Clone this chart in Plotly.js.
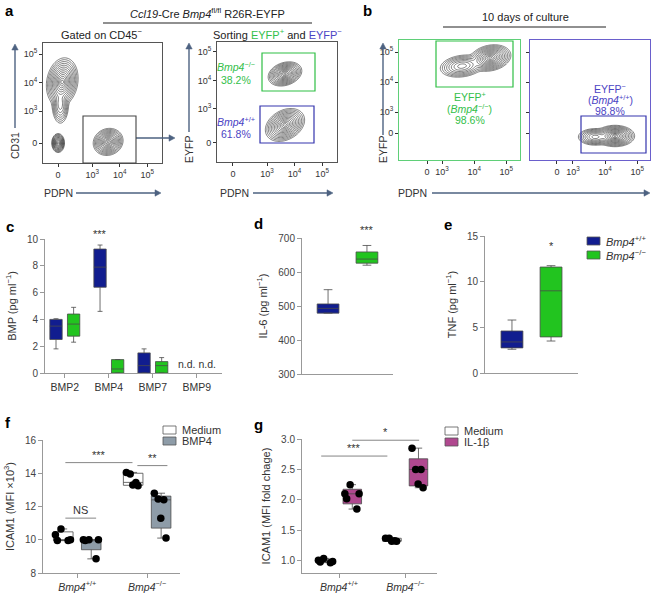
<!DOCTYPE html>
<html><head><meta charset="utf-8">
<script src="https://cdn.plot.ly/plotly-3.0.1.min.js"></script>
<style>html,body{margin:0;padding:0;background:#fff}#chart{width:651px;height:597px}</style>
</head><body><div id="chart"></div>
<script>
// ---------------- DATA ----------------
// Flow cytometry tick labels (biexponential display)
const flowTickText = ['0', '10<sup>3</sup>', '10<sup>4</sup>', '10<sup>5</sup>'];

// Populations (display units: 0 at "0", one unit per decade above 10^3)
const aLeftPopX  = [0.15, 0.08, 0.00, 1.82];
const aLeftPopY  = [2.14, 1.35, 0.00, 0.04];
const aLeftPopSX = [0.17, 0.10, 0.07, 0.16];
const aLeftPopSY = [0.25, 0.22, 0.10, 0.14];
const aLeftPopR  = [0.15, 0.0, 0.0, 0.1];
const aLeftPopW  = [1.0, 0.25, 0.8, 1.0];

const aRightPopX  = [1.89, 1.89];
const aRightPopY  = [2.42, 0.63];
const aRightPopSX = [0.18, 0.21];
const aRightPopSY = [0.125, 0.17];
const aRightPopR  = [0.25, 0.3];
const aRightPopW  = [1.0, 1.0];

const bLeftPopX  = [1.97, 1.09];
const bLeftPopY  = [2.50, 2.23];
const bLeftPopSX = [0.19, 0.22];
const bLeftPopSY = [0.13, 0.12];
const bLeftPopR  = [0.2, 0.2];
const bLeftPopW  = [1.0, 0.35];

const bRightPopX  = [1.81, 1.19];
const bRightPopY  = [-0.10, -0.13];
const bRightPopSX = [0.18, 0.17];
const bRightPopSY = [0.105, 0.09];
const bRightPopR  = [0.0, 0.0];
const bRightPopW  = [1.0, 0.35];

// Panel c: BMP (pg/ml)
const bmpCategories = ['BMP2', 'BMP4', 'BMP7', 'BMP9'];
const bmpMeasured   = ['BMP2', 'BMP4', 'BMP7'];
const bmpWT_low = [1.8, 4.6, 0.0];
const bmpWT_q1  = [2.5, 6.4, 0.0];
const bmpWT_med = [3.5, 7.9, 0.55];
const bmpWT_q3  = [4.0, 9.25, 1.5];
const bmpWT_high= [4.05, 9.55, 1.8];
const bmpKO_low = [2.3, 0.0, 0.0];
const bmpKO_q1  = [2.75, 0.0, 0.0];
const bmpKO_med = [3.65, 0.3, 0.55];
const bmpKO_q3  = [4.4, 1.0, 0.85];
const bmpKO_high= [4.9, 1.0, 1.15];

// Genotypes
const genotypes = ['Bmp4+/+', 'Bmp4-/-'];
const genotypeLabels = ['<i>Bmp4</i><sup>+/+</sup>', '<i>Bmp4</i><sup>−/−</sup>'];

// Panel d: IL-6 (pg/ml)  [WT, KO]
const il6_low  = [479, 620];
const il6_q1   = [479, 626];
const il6_med  = [493, 638];
const il6_q3   = [506, 659];
const il6_high = [548, 678];

// Panel e: TNF (pg/ml)
const tnf_low  = [2.6, 3.5];
const tnf_q1   = [2.75, 3.95];
const tnf_med  = [3.4, 9.0];
const tnf_q3   = [4.6, 11.6];
const tnf_high = [5.8, 11.75];

// Panel f: ICAM1 (MFI x10^3)
const fMediumWT = [10.65, 10.3, 10.0, 9.95, 9.95];
const fMediumKO = [14.05, 13.95, 13.45, 13.3, 13.25];
const fBMP4WT   = [10.0, 10.0, 9.95, 10.0, 8.85];
const fBMP4KO   = [12.8, 12.45, 12.4, 11.3, 10.1];

// Panel g: ICAM1 (MFI fold change)
const gMediumWT = [0.99, 1.04, 0.98, 1.01, 0.97];
const gMediumKO = [1.32, 1.37, 1.33, 1.37, 1.32];
const gIL1WT    = [2.25, 2.1, 2.1, 2.02, 1.85];
const gIL1KO    = [2.85, 2.5, 2.5, 2.26, 2.2];

// Legend labels
const legendE = genotypeLabels;
const legendF = ['Medium', 'BMP4'];
const legendG = ['Medium', 'IL-1β'];

// ---------------- STYLE / LAYOUT ----------------
const W = 651, H = 597;
const FONT = 'Liberation Sans, Arial, Helvetica, sans-serif';
const PX = v => v / W, PY = v => 1 - v / H;
const C_BLUE = '#111d8f', C_GREEN = '#22c41f', C_GREY = '#8e9ca8', C_MAG = '#b0488f';
const GATE_GREEN = '#2fbf45', GATE_BLUE = '#3434ad', TXT_GREEN = '#33c04a', TXT_BLUE = '#4b44c4';
const ARW = '#4d6281';

function densityTrace(xr, yr, px, py, sx, sy, rr, ww, xa, ya) {
  const n = 90, xs = [], ys = [], z = [];
  for (let i = 0; i < n; i++) xs.push(xr[0] + (xr[1] - xr[0]) * i / (n - 1));
  for (let j = 0; j < n; j++) ys.push(yr[0] + (yr[1] - yr[0]) * j / (n - 1));
  for (let j = 0; j < n; j++) {
    const row = [];
    for (let i = 0; i < n; i++) {
      let d = 0;
      for (let k = 0; k < px.length; k++) {
        const dx = (xs[i] - px[k]) / sx[k], dy = (ys[j] - py[k]) / sy[k], r = rr[k];
        const q = (dx * dx - 2 * r * dx * dy + dy * dy) / (1 - r * r);
        d += ww[k] * Math.exp(-q / 2);
      }
      d = Math.min(d, 0.999);
      row.push(d > 1e-9 ? -Math.sqrt(-2 * Math.log(d)) : -7);
    }
    z.push(row);
  }
  return {type: 'contour', x: xs, y: ys, z: z, xaxis: xa, yaxis: ya,
    contours: {coloring: 'lines', start: -3.4, end: -0.2, size: 0.26},
    line: {width: 0.55, smoothing: 1}, colorscale: [[0, '#1c1c1c'], [1, '#1c1c1c']],
    showscale: false, hoverinfo: 'skip', showlegend: false};
}

// flow axes (linear-region width L per panel)
const aLX = {L: 1.24, r: [-0.55, 3.78]}, aLY = {L: 1.12, r: [-0.70, 3.51]};
const aRX = {L: 1.24, r: [-0.58, 3.78]}, aRY = {L: 1.19, r: [-0.67, 3.54]};
const bLX = {L: 0.47, r: [-0.875, 2.9]}, bRX = {L: 0.50, r: [-0.84, 2.9]}, bY = {L: 0.70, r: [-0.9, 3.1]};

function flowAxis(dom, s, anchor, color, labels) {
  return {domain: dom, range: s.r, anchor: anchor, tickmode: 'array',
    tickvals: [0, s.L, s.L + 1, s.L + 2], ticktext: flowTickText, ticks: 'outside', ticklen: 3,
    tickcolor: '#333', tickfont: {size: 9, color: '#333', family: FONT}, showticklabels: labels !== false,
    showline: true, mirror: true, linecolor: color, linewidth: 1, showgrid: false, zeroline: false, fixedrange: true};
}

const traces = [];
traces.push(densityTrace(aLX.r, aLY.r, aLeftPopX, aLeftPopY, aLeftPopSX, aLeftPopSY, aLeftPopR, aLeftPopW, 'x', 'y'));
traces.push(densityTrace(aRX.r, aRY.r, aRightPopX, aRightPopY, aRightPopSX, aRightPopSY, aRightPopR, aRightPopW, 'x2', 'y2'));
traces.push(densityTrace(bLX.r, bY.r, bLeftPopX, bLeftPopY, bLeftPopSX, bLeftPopSY, bLeftPopR, bLeftPopW, 'x3', 'y3'));
traces.push(densityTrace(bRX.r, bY.r, bRightPopX, bRightPopY, bRightPopSX, bRightPopSY, bRightPopR, bRightPopW, 'x4', 'y4'));

const boxLine = {color: '#4a4a4a', width: 0.8};
// c
traces.push({type: 'box', x: bmpMeasured, q1: bmpWT_q1, median: bmpWT_med, q3: bmpWT_q3,
  lowerfence: bmpWT_low, upperfence: bmpWT_high, fillcolor: C_BLUE, line: boxLine, whiskerwidth: 0.4,
  offsetgroup: 'wt', xaxis: 'x5', yaxis: 'y5', showlegend: false, hoverinfo: 'skip', name: 'Bmp4+/+'});
traces.push({type: 'box', x: bmpMeasured, q1: bmpKO_q1, median: bmpKO_med, q3: bmpKO_q3,
  lowerfence: bmpKO_low, upperfence: bmpKO_high, fillcolor: C_GREEN, line: boxLine, whiskerwidth: 0.4,
  offsetgroup: 'ko', xaxis: 'x5', yaxis: 'y5', showlegend: false, hoverinfo: 'skip', name: 'Bmp4-/-'});
// d
[0, 1].forEach(i => traces.push({type: 'box', x: [genotypes[i]], q1: [il6_q1[i]], median: [il6_med[i]], q3: [il6_q3[i]],
  lowerfence: [il6_low[i]], upperfence: [il6_high[i]], fillcolor: i ? C_GREEN : C_BLUE, line: boxLine, whiskerwidth: 0.4,
  offsetgroup: 'one', xaxis: 'x6', yaxis: 'y6', showlegend: false, hoverinfo: 'skip'}));
// e
[0, 1].forEach(i => traces.push({type: 'box', x: [genotypes[i]], q1: [tnf_q1[i]], median: [tnf_med[i]], q3: [tnf_q3[i]],
  lowerfence: [tnf_low[i]], upperfence: [tnf_high[i]], fillcolor: i ? C_GREEN : C_BLUE, line: boxLine, whiskerwidth: 0.4,
  offsetgroup: 'one', xaxis: 'x7', yaxis: 'y7', showlegend: false, name: genotypeLabels[i], hoverinfo: 'skip'}));

function sampleBox(wt, ko, fill, group, xa, ya, name) {
  return {type: 'box', x: wt.map(() => genotypes[0]).concat(ko.map(() => genotypes[1])), y: wt.concat(ko),
    boxpoints: 'all', jitter: 0.95, pointpos: 0, quartilemethod: 'exclusive',
    marker: {color: '#000', size: 7.5}, fillcolor: fill, line: boxLine, whiskerwidth: 0.4,
    offsetgroup: group, xaxis: xa, yaxis: ya, name: name, showlegend: false, hoverinfo: 'skip'};
}
traces.push(sampleBox(fMediumWT, fMediumKO, '#ffffff', 'med', 'x8', 'y8', legendF[0]));
traces.push(sampleBox(fBMP4WT, fBMP4KO, C_GREY, 'trt', 'x8', 'y8', legendF[1]));
traces.push(sampleBox(gMediumWT, gMediumKO, '#ffffff', 'med', 'x9', 'y9', legendG[0]));
traces.push(sampleBox(gIL1WT, gIL1KO, C_MAG, 'trt', 'x9', 'y9', legendG[1]));

function statY(bot, top, range, tickvals, title, standoff, anchor, fmt) {
  return {domain: [PY(bot), PY(top)], range: range, anchor: anchor, tickmode: 'array', tickvals: tickvals,
    tickformat: fmt || '', ticks: 'outside', ticklen: 4, tickcolor: '#999', tickfont: {size: 10, color: '#444', family: FONT},
    showline: true, linecolor: '#999', linewidth: 1, showgrid: false, zeroline: false, fixedrange: true,
    title: {text: title, font: {size: 11, color: '#333', family: FONT}, standoff: standoff}};
}
function statX(left, right, range, cats, ticklabels, anchor, ticktext) {
  return {domain: [PX(left), PX(right)], range: range, anchor: anchor, type: 'category', categoryorder: 'array',
    categoryarray: cats, tickmode: 'array', tickvals: cats, ticktext: ticktext || cats,
    ticks: ticklabels ? 'outside' : '', ticklen: 4, tickcolor: '#999', showticklabels: ticklabels,
    tickfont: {size: 10.5, color: '#333', family: FONT}, showline: true, linecolor: '#999', linewidth: 1,
    showgrid: false, zeroline: false, fixedrange: true};
}

const ann = [];
function T(x, y, text, opt) {
  ann.push(Object.assign({xref: 'paper', yref: 'paper', x: PX(x), y: PY(y), text: text, showarrow: false,
    xanchor: 'center', yanchor: 'middle', font: {size: 11, color: '#222', family: FONT}}, opt || {}));
}
// panel letters
const LET = {size: 15, color: '#000', family: 'Liberation Sans, Arial, sans-serif', weight: 'bold'};
[['a', 9, 10], ['b', 367, 10], ['c', 10, 226], ['d', 258, 224], ['e', 448, 225], ['f', 8, 422], ['g', 258, 424]]
  .forEach(l => T(l[1], l[2], '<b>' + l[0] + '</b>', {font: LET}));
// headers
T(207, 13, '<i>Ccl19</i>-Cre <i>Bmp4</i><sup>fl/fl</sup> R26R-EYFP', {font: {size: 11, color: '#222', family: FONT}});
T(101, 34, 'Gated on CD45<sup>−</sup>');
T(277, 34, 'Sorting <span style="color:' + TXT_GREEN + '">EYFP<sup>+</sup></span> and <span style="color:' + TXT_BLUE + '">EYFP<sup>−</sup></span>');
T(525, 17, '10 days of culture');
// flow axis titles
T(15, 146, 'CD31', {textangle: -90, font: {size: 10.5, color: '#333', family: FONT}});
T(189, 150, 'EYFP', {textangle: -90, font: {size: 10.5, color: '#333', family: FONT}});
T(383, 150, 'EYFP', {textangle: -90, font: {size: 10.5, color: '#333', family: FONT}});
T(58, 193, 'PDPN', {font: {size: 10.5, color: '#333', family: FONT}});
T(234, 193, 'PDPN', {font: {size: 10.5, color: '#333', family: FONT}});
T(412, 193, 'PDPN', {font: {size: 10.5, color: '#333', family: FONT}});
// gate texts
const gf = c => ({font: {size: 10.5, color: c, family: FONT}});
T(236, 67, '<i>Bmp4</i><sup>−/−</sup>', gf(TXT_GREEN)); T(236, 80, '38.2%', gf(TXT_GREEN));
T(236, 121, '<i>Bmp4</i><sup>+/+</sup>', gf(TXT_BLUE)); T(236, 134, '61.8%', gf(TXT_BLUE));
T(470, 96, 'EYFP<sup>+</sup>', gf(TXT_GREEN)); T(470, 108, '(<i>Bmp4</i><sup>−/−</sup>)', gf(TXT_GREEN)); T(470, 120, '98.6%', gf(TXT_GREEN));
T(610, 89, 'EYFP<sup>−</sup>', gf(TXT_BLUE)); T(610, 100, '(<i>Bmp4</i><sup>+/+</sup>)', gf(TXT_BLUE)); T(610, 111, '98.8%', gf(TXT_BLUE));

// significance marks (data coords)
const sig = {size: 11, color: '#333', family: FONT};
ann.push({xref: 'x5', yref: 'y5', x: 'BMP4', xshift: -9, y: 9.75, text: '***', showarrow: false, yanchor: 'bottom', font: sig});
ann.push({xref: 'x5', yref: 'y5', x: 'BMP9', y: 0.05, text: 'n.d. n.d.', showarrow: false, yanchor: 'bottom', font: {size: 10.5, color: '#333', family: FONT}});
ann.push({xref: 'x6', yref: 'y6', x: genotypes[1], y: 700, text: '***', showarrow: false, yanchor: 'bottom', font: sig});
ann.push({xref: 'x7', yref: 'y7', x: genotypes[1], y: 13.0, text: '*', showarrow: false, yanchor: 'bottom', font: sig});
ann.push({xref: 'x8', yref: 'y8', x: 0.05, y: 11.3, text: 'NS', showarrow: false, yanchor: 'bottom', font: sig});
ann.push({xref: 'x8', yref: 'y8', x: 0.31, y: 14.64, text: '***', showarrow: false, yanchor: 'bottom', font: sig});
ann.push({xref: 'x8', yref: 'y8', x: 1.07, y: 14.46, text: '**', showarrow: false, yanchor: 'bottom', font: sig});
ann.push({xref: 'x9', yref: 'y9', x: 0.23, y: 2.72, text: '***', showarrow: false, yanchor: 'bottom', font: sig});
ann.push({xref: 'x9', yref: 'y9', x: 0.70, y: 2.98, text: '*', showarrow: false, yanchor: 'bottom', font: sig});

const shapes = [];
function R(x0, y0, x1, y1, color, w, fill) {
  shapes.push({type: 'rect', xref: 'paper', yref: 'paper', x0: PX(x0), x1: PX(x1), y0: PY(y0), y1: PY(y1),
    line: {color: color, width: w || 1.2}, fillcolor: fill || 'rgba(0,0,0,0)'});
}
function Lp(x0, y0, x1, y1, color, w) {
  shapes.push({type: 'line', xref: 'paper', yref: 'paper', x0: PX(x0), x1: PX(x1), y0: PY(y0), y1: PY(y1),
    line: {color: color, width: w || 1}});
}
function Ld(xa, ya, x0, x1, y) {
  shapes.push({type: 'line', xref: xa, yref: ya, x0: x0, x1: x1, y0: y, y1: y, line: {color: '#777', width: 0.9}});
}
// arrow: line from tail (x0,y0) to head (x1,y1) plus triangular head
function Arrow(x0, y0, x1, y1) {
  const dx = x1 - x0, dy = y1 - y0, len = Math.hypot(dx, dy), ux = dx / len, uy = dy / len;
  const hl = 6, hw = 3.2;
  const bx = x1 - ux * hl, by = y1 - uy * hl;
  Lp(x0, y0, bx, by, ARW, 1.4);
  const p = (x, y) => PX(x) + ',' + PY(y);
  shapes.push({type: 'path', xref: 'paper', yref: 'paper',
    path: 'M' + p(x1, y1) + 'L' + p(bx - uy * hw, by + ux * hw) + 'L' + p(bx + uy * hw, by - ux * hw) + 'Z',
    fillcolor: ARW, line: {color: ARW, width: 0.5}});
}
Arrow(15, 128, 15, 44); Arrow(189, 132, 189, 43); Arrow(383, 135, 383, 43);
Arrow(76, 193, 161, 193); Arrow(253, 193, 333, 193); Arrow(432, 193, 650, 193);
Arrow(136, 138, 175, 138);
Lp(103, 23, 312, 23, '#222', 1.2);
Lp(443, 27, 606, 27, '#222', 1.2);
R(83, 116, 136, 163, '#444', 1.1);
R(262, 53, 315, 91, GATE_GREEN); R(260, 106, 314, 143, GATE_BLUE);
R(436, 41, 513, 87, GATE_GREEN); R(581, 116, 646, 153, GATE_BLUE);
Ld('x8', 'y8', -0.17, 0.27, 11.3); Ld('x8', 'y8', -0.17, 0.79, 14.64); Ld('x8', 'y8', 0.86, 1.29, 14.46);
Ld('x9', 'y9', -0.27, 0.73, 2.72); Ld('x9', 'y9', 0.20, 1.21, 2.98);

// compact legends (swatch + label)
function Legend(x, y0, step, labels, fills, italic) {
  labels.forEach((lab, i) => {
    const y = y0 + i * step;
    R(x, y - 4, x + 13, y + 4, '#555', 0.8, fills[i]);
    T(x + 17, y, lab, {xanchor: 'left', font: {size: 11, color: '#333', family: FONT}});
  });
}
Legend(587, 241, 14, legendE, [C_BLUE, C_GREEN]);
Legend(163, 430, 11, legendF, ['#ffffff', C_GREY]);
Legend(445, 431, 11, legendG, ['#ffffff', C_MAG]);

const layout = {
  width: W, height: H, autosize: false, margin: {l: 0, r: 0, t: 0, b: 0},
  paper_bgcolor: '#fff', plot_bgcolor: 'rgba(0,0,0,0)', font: {family: FONT, color: '#333'},
  boxmode: 'group', boxgap: 0.2, boxgroupgap: 0.3, showlegend: false,
  xaxis:  flowAxis([PX(43), PX(162)], aLX, 'y', '#555'),
  yaxis:  flowAxis([PY(163), PY(43)], aLY, 'x', '#555'),
  xaxis2: flowAxis([PX(217), PX(337)], aRX, 'y2', '#555'),
  yaxis2: flowAxis([PY(162), PY(42)], aRY, 'x2', '#555'),
  xaxis3: flowAxis([PX(399), PX(520)], bLX, 'y3', '#5fcf78'),
  yaxis3: flowAxis([PY(160), PY(40)], bY, 'x3', '#5fcf78'),
  xaxis4: flowAxis([PX(530), PX(650)], bRX, 'y4', '#6a5fcc'),
  yaxis4: flowAxis([PY(160), PY(40)], bY, 'x4', '#6a5fcc', false),
  xaxis5: statX(45, 222, [-0.45, 3.57], bmpCategories, true, 'y5'),
  yaxis5: statY(373, 239, [0, 10], [0, 2, 4, 6, 8, 10], 'BMP (pg ml<sup>−1</sup>)', 8, 'x5'),
  xaxis6: statX(302, 393, [-0.67, 1.67], genotypes, false, 'y6'),
  yaxis6: statY(374, 238, [300, 700], [300, 400, 500, 600, 700], 'IL-6 (pg ml<sup>−1</sup>)', 8, 'x6'),
  xaxis7: statX(485, 578, [-0.69, 1.69], genotypes, false, 'y7'),
  yaxis7: statY(373, 236, [0, 15], [0, 5, 10, 15], 'TNF (pg ml<sup>−1</sup>)', 8, 'x7'),
  xaxis8: statX(43, 180, [-0.49, 1.47], genotypes, true, 'y8', genotypeLabels),
  yaxis8: statY(573, 440, [8, 16], [8, 10, 12, 14, 16], 'ICAM1 (MFI ×10<sup>3</sup>)', 8, 'x8'),
  xaxis9: statX(302, 437, [-0.56, 1.48], genotypes, true, 'y9', genotypeLabels),
  yaxis9: statY(573, 439, [0.8, 3.0], [1, 1.5, 2, 2.5, 3], 'ICAM1 (MFI fold chage)', 8, 'x9', '.1f'),
  annotations: ann, shapes: shapes
};

Plotly.newPlot('chart', traces, layout, {displayModeBar: false, staticPlot: true});
</script></body></html>
